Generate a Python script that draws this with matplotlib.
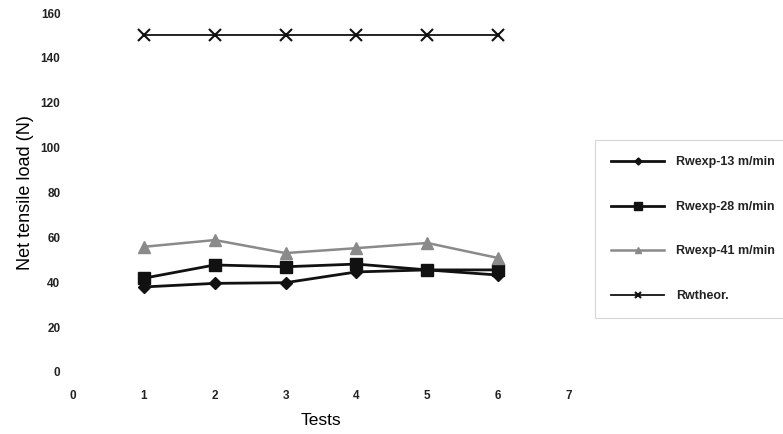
import matplotlib
matplotlib.use("Agg")
import matplotlib.pyplot as plt

plt.rcParams['font.family'] = ['Liberation Sans', 'DejaVu Sans']

tests = [1, 2, 3, 4, 5, 6]
rw_13 = [37.9, 39.5, 39.8, 44.6, 45.5, 43.2]
rw_28 = [41.8, 47.7, 46.9, 48.1, 45.5, 45.5]
rw_41 = [55.8, 58.8, 53.0, 55.2, 57.5, 50.8]
rw_theor = [150, 150, 150, 150, 150, 150]

labels = ['Rwexp-13 m/min', 'Rwexp-28 m/min', 'Rwexp-41 m/min', 'Rwtheor.']

fig = plt.figure(figsize=(7.83, 4.34), dpi=100, facecolor='white')
ax = fig.add_axes([0.0932, 0.1429, 0.6335, 0.8271])

l1, = ax.plot(tests, rw_13, color='#111111', lw=2, marker='D', ms=6)
l2, = ax.plot(tests, rw_28, color='#111111', lw=2, marker='s', ms=9)
l3, = ax.plot(tests, rw_41, color='#8a8a8a', lw=1.8, marker='^', ms=8)
l4, = ax.plot(tests, rw_theor, color='#111111', lw=1.3, marker='x', ms=8, mew=1.5)

ax.set_xlim(0, 7)
ax.set_ylim(0, 160)
ax.set_xticks(range(0, 8))
ax.set_yticks(range(0, 161, 20))
for s in ax.spines.values():
    s.set_visible(False)
ax.tick_params(length=0, labelsize=8.5, colors='#222222')
ax.tick_params(axis='x', pad=13)
ax.tick_params(axis='y', pad=9)
for t in ax.get_xticklabels() + ax.get_yticklabels():
    t.set_fontweight('bold')

ax.set_xlabel('Tests', fontsize=12.5, labelpad=8)
ax.set_ylabel('Net tensile load (N)', fontsize=13, labelpad=5)

leg = fig.legend([l1, l2, l3, l4], labels, loc='upper left',
                 bbox_to_anchor=(0.760, 0.677), fontsize=9, frameon=True,
                 fancybox=False, edgecolor='#cccccc', labelspacing=2.6,
                 handlelength=4.2, borderpad=1.3, handletextpad=1.0,
                 borderaxespad=0, markerscale=0.6)
leg.get_frame().set_linewidth(0.8)
for t in leg.get_texts():
    t.set_fontweight('bold')
    t.set_color('#222222')

plt.savefig('out.png', dpi=100)
